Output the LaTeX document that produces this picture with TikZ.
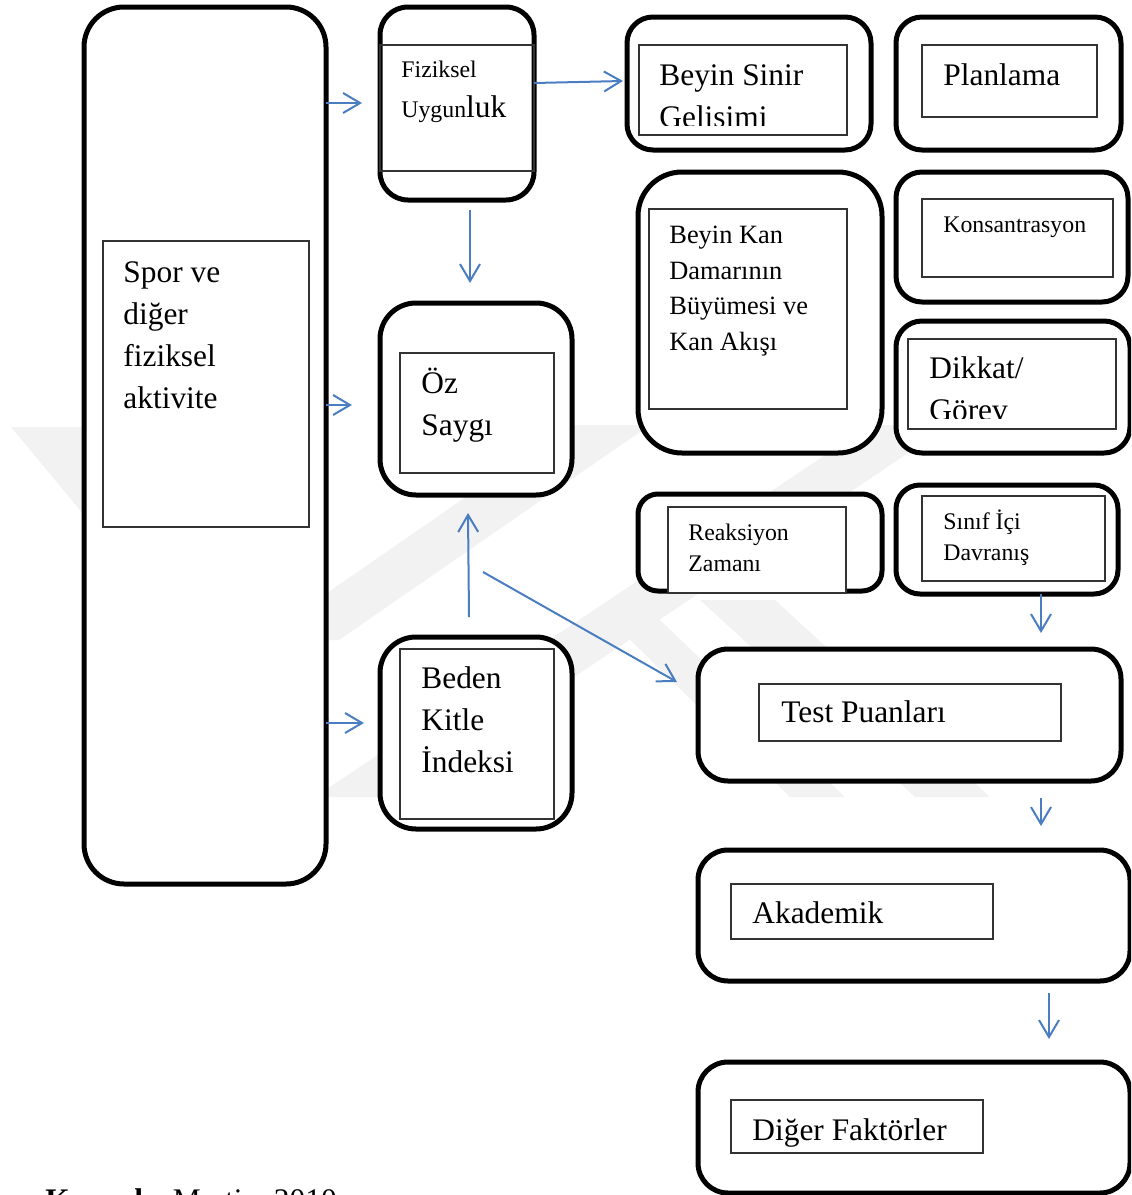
\documentclass[tikz,border=0pt]{standalone}
\usepackage{fontspec}
\setmainfont{Liberation Serif}
\usetikzlibrary{arrows.meta}
\definecolor{okmavi}{RGB}{74,126,193}
\definecolor{filigran}{gray}{0.95}
\newcommand{\buyuk}{\fontsize{15.7}{21}\selectfont}
\newcommand{\orta}{\fontsize{13.2}{17.7}\selectfont}
\newcommand{\kucuk}{\fontsize{11.9}{15.5}\selectfont}

\begin{document}
\begin{tikzpicture}
		[x=0.5pt,y=-0.5pt,
		kutu/.style={draw, line width=2.5pt, fill=white, inner sep=0pt, rounded corners=#1},
		ic/.style={draw=black!80, line width=0.7pt, fill=white, inner sep=0pt},
		yazi/.style={anchor=base west, align=left, inner sep=0pt},
		ok/.style={draw=okmavi, line width=1pt, -{Straight Barb[length=8.5pt,width=10pt]}}]
		\path[use as bounding box] (0,0) rectangle (1131,1195);
		\clip (0,0) rectangle (1131,1195);
		%-----filigran
		\fill[filigran] (11,427) -- (87,427) -- (330,720) -- (254,720) -- cycle;
		\fill[filigran] (570,425) -- (650,425) -- (339,640) -- (259,640) -- cycle;
		\fill[filigran] (870,425) -- (950,425) -- (395,797) -- (315,797) -- cycle;
		\fill[filigran] (700,600) -- (775,600) -- (990,797) -- (915,797) -- cycle;
		\fill[filigran] (610,620) -- (660,620) -- (845,797) -- (790,797) -- cycle;
		%-----dis kutular
		\node[kutu=20pt, minimum width=121pt, minimum height=438.5pt] (SPOR) at (205,445.5) {};
		\node[kutu=14pt, minimum width=77pt, minimum height=96.5pt] (FIZ) at (457,103.5) {};
		\node[kutu=13pt, minimum width=122pt, minimum height=66.5pt] (BSG) at (749,83.5) {};
		\node[kutu=13pt, minimum width=112.5pt, minimum height=66.5pt] (PLAN) at (1008.5,83.5) {};
		\node[kutu=22pt, minimum width=122pt, minimum height=140.5pt] (BKD) at (760,312.5) {};
		\node[kutu=13pt, minimum width=116pt, minimum height=65pt] (KONS) at (1012,237) {};
		\node[kutu=13pt, minimum width=117pt, minimum height=66pt] (DIK) at (1013,387) {};
		\node[kutu=18pt, minimum width=96pt, minimum height=96pt] (OZ) at (476,399) {};
		\node[kutu=18pt, minimum width=96pt, minimum height=96pt] (BKI) at (476,733) {};
		\node[kutu=10pt, minimum width=122pt, minimum height=48.5pt] (RZ) at (760,542.5) {};
		\node[kutu=12pt, minimum width=111pt, minimum height=54.5pt] (SID) at (1007,539.5) {};
		\node[kutu=15pt, minimum width=211.5pt, minimum height=66pt] (TP) at (909.5,715) {};
		\node[kutu=15pt, minimum width=216pt, minimum height=65.5pt] (AKA) at (914,915.5) {};
		\node[kutu=15pt, minimum width=216pt, minimum height=65.5pt] (DF) at (914,1127.5) {};
		%-----ic kutular
		\node[ic, minimum width=103pt, minimum height=143pt] (SPORi) at (206,384) {};
		\node[ic, fill=none, minimum width=77pt, minimum height=63pt] (FIZi) at (457,108) {};
		\node[ic, minimum width=104pt, minimum height=45pt] (BSGi) at (743,90) {};
		\node[ic, minimum width=87.5pt, minimum height=36pt] (PLANi) at (1009.5,81) {};
		\node[ic, minimum width=99pt, minimum height=100pt] (BKDi) at (748,309) {};
		\node[ic, minimum width=95.5pt, minimum height=39pt] (KONSi) at (1017.5,238) {};
		\node[ic, minimum width=104pt, minimum height=45pt] (DIKi) at (1012,384) {};
		\node[ic, minimum width=77pt, minimum height=60pt] (OZi) at (477,413) {};
		\node[ic, minimum width=77pt, minimum height=85pt] (BKIi) at (477,734) {};
		\node[ic, minimum width=89pt, minimum height=43pt] (RZi) at (757,550) {};
		\node[ic, minimum width=91.5pt, minimum height=42.5pt] (SIDi) at (1013.5,538.5) {};
		\node[ic, minimum width=151pt, minimum height=28.5pt] (TPi) at (910,712.5) {};
		\node[ic, minimum width=131pt, minimum height=27.5pt] (AKAi) at (862,911.5) {};
		\node[ic, minimum width=126pt, minimum height=26.5pt] (DFi) at (857,1126.5) {};
		%-----yazilar (base = son satir)
		\node[yazi, font=\buyuk] (SPORt) at (123,408) {Spor ve\\diğer\\fiziksel\\aktivite};
		\node[yazi, font=\kucuk] (FIZt) at (401,77) {Fiziksel};
		\node[yazi, font=\kucuk] (FIZu) at (401,117) {Uygun{\buyuk luk}};
		\begin{scope}
			\clip (639,45) rectangle (847,125);
			\node[yazi, font=\buyuk] (BSGt) at (659,127) {Beyin Sinir\\Gelisimi};
		\end{scope}
		\node[yazi, font=\buyuk] (PLANt) at (943,85) {Planlama};
		\node[yazi, font=\orta] (BKDt) at (669,350) {Beyin Kan\\Damarının\\Büyümesi ve\\Kan Akışı};
		\node[yazi, font=\kucuk] (KONSt) at (943,232) {Konsantrasyon};
		\begin{scope}
			\clip (908,339) rectangle (1116,418);
			\node[yazi, font=\buyuk] (DIKt) at (929,420) {Dikkat/\\Görev};
		\end{scope}
		\node[yazi, font=\buyuk] (OZt) at (421,435) {Öz\\Saygı};
		\node[yazi, font=\buyuk] (BKIt) at (421,772) {Beden\\Kitle\\İndeksi};
		\node[yazi, font=\kucuk] (RZt) at (688,571) {Reaksiyon\\Zamanı};
		\node[yazi, font=\kucuk] (SIDt) at (943,560) {Sınıf İçi\\Davranış};
		\node[yazi, font=\buyuk] (TPt) at (781,722) {Test Puanları};
		\node[yazi, font=\buyuk] (AKAt) at (752,923) {Akademik};
		\node[yazi, font=\buyuk] (DFt) at (752,1140) {Diğer Faktörler};
		\node[yazi, font=\buyuk] (KAYt) at (45,1210) {\textbf{Kaynak:} Martin, 2010};
		%-----oklar
		\coordinate (s1) at (326,103);   \coordinate (e1) at (362,103);
		\coordinate (s2) at (326,405);   \coordinate (e2) at (352,405);
		\coordinate (s3) at (326,723);   \coordinate (e3) at (364,723);
		\coordinate (s4) at (534,83);    \coordinate (e4) at (623,81);
		\coordinate (s5) at (470,210);   \coordinate (e5) at (470,283);
		\coordinate (s6) at (469,617);   \coordinate (e6) at (468,513);
		\coordinate (s7) at (483,572);   \coordinate (e7) at (677,682);
		\coordinate (s8) at (1041,594);  \coordinate (e8) at (1041,633);
		\coordinate (s9) at (1041,798);  \coordinate (e9) at (1041,826);
		\coordinate (s10) at (1049,993); \coordinate (e10) at (1049,1039);
		\foreach \from/\to in {s1/e1,s2/e2,s3/e3,s4/e4,s5/e5,s6/e6,s7/e7,s8/e8,s9/e9,s10/e10}
		\draw[ok] (\from) -- (\to);
\end{tikzpicture}
\end{document}
